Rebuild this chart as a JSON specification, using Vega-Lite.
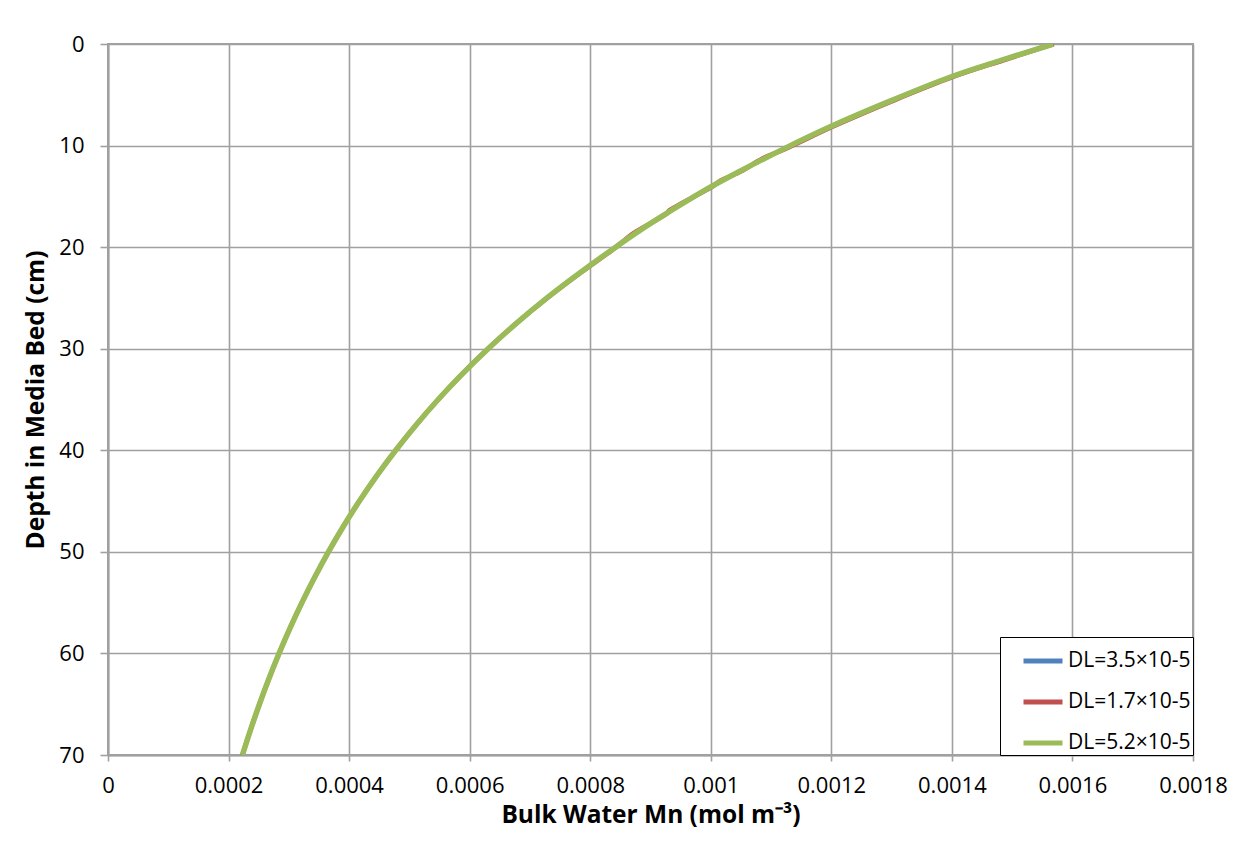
{
  "$schema": "https://vega.github.io/schema/vega-lite/v6.json",
  "autosize": {"type": "none"},
  "width": 1085,
  "height": 711,
  "padding": {"left": 108, "top": 44, "right": 51, "bottom": 88},
  "background": "white",
  "datasets": {
    "curves": [
      {"series": "DL=3.5×10-5", "depth": 0, "mn": 0.001568},
      {"series": "DL=3.5×10-5", "depth": 1.6, "mn": 0.0014817},
      {"series": "DL=3.5×10-5", "depth": 3.2, "mn": 0.0014},
      {"series": "DL=3.5×10-5", "depth": 5.6, "mn": 0.0012982},
      {"series": "DL=3.5×10-5", "depth": 8.15, "mn": 0.001198},
      {"series": "DL=3.5×10-5", "depth": 10.3, "mn": 0.0011219},
      {"series": "DL=3.5×10-5", "depth": 12.5, "mn": 0.0010491},
      {"series": "DL=3.5×10-5", "depth": 14, "mn": 0.001002},
      {"series": "DL=3.5×10-5", "depth": 16.7, "mn": 0.000926},
      {"series": "DL=3.5×10-5", "depth": 18.3, "mn": 0.0008836},
      {"series": "DL=3.5×10-5", "depth": 20, "mn": 0.000842},
      {"series": "DL=3.5×10-5", "depth": 22.5, "mn": 0.0007836},
      {"series": "DL=3.5×10-5", "depth": 25, "mn": 0.0007283},
      {"series": "DL=3.5×10-5", "depth": 27.5, "mn": 0.0006774},
      {"series": "DL=3.5×10-5", "depth": 30, "mn": 0.0006306},
      {"series": "DL=3.5×10-5", "depth": 32.5, "mn": 0.0005875},
      {"series": "DL=3.5×10-5", "depth": 35, "mn": 0.0005478},
      {"series": "DL=3.5×10-5", "depth": 37.5, "mn": 0.0005111},
      {"series": "DL=3.5×10-5", "depth": 40, "mn": 0.0004773},
      {"series": "DL=3.5×10-5", "depth": 42.5, "mn": 0.000446},
      {"series": "DL=3.5×10-5", "depth": 45, "mn": 0.0004171},
      {"series": "DL=3.5×10-5", "depth": 47.5, "mn": 0.0003904},
      {"series": "DL=3.5×10-5", "depth": 50, "mn": 0.0003657},
      {"series": "DL=3.5×10-5", "depth": 52.5, "mn": 0.0003429},
      {"series": "DL=3.5×10-5", "depth": 55, "mn": 0.0003217},
      {"series": "DL=3.5×10-5", "depth": 57.5, "mn": 0.000302},
      {"series": "DL=3.5×10-5", "depth": 60, "mn": 0.0002838},
      {"series": "DL=3.5×10-5", "depth": 62.5, "mn": 0.0002669},
      {"series": "DL=3.5×10-5", "depth": 65, "mn": 0.0002512},
      {"series": "DL=3.5×10-5", "depth": 67.5, "mn": 0.0002366},
      {"series": "DL=3.5×10-5", "depth": 70, "mn": 0.000223},

      {"series": "DL=1.7×10-5", "depth": 0, "mn": 0.001569},
      {"series": "DL=1.7×10-5", "depth": 1.6, "mn": 0.0014857},
      {"series": "DL=1.7×10-5", "depth": 3.2, "mn": 0.001404},
      {"series": "DL=1.7×10-5", "depth": 5.6, "mn": 0.0013022},
      {"series": "DL=1.7×10-5", "depth": 8.15, "mn": 0.001202},
      {"series": "DL=1.7×10-5", "depth": 10.3, "mn": 0.0011249},
      {"series": "DL=1.7×10-5", "depth": 11.3, "mn": 0.001085},
      {"series": "DL=1.7×10-5", "depth": 12.5, "mn": 0.0010515},
      {"series": "DL=1.7×10-5", "depth": 13.5, "mn": 0.0010145},
      {"series": "DL=1.7×10-5", "depth": 14, "mn": 0.001004},
      {"series": "DL=1.7×10-5", "depth": 16.4, "mn": 0.000931},
      {"series": "DL=1.7×10-5", "depth": 16.7, "mn": 0.000927},
      {"series": "DL=1.7×10-5", "depth": 18.7, "mn": 0.00087},
      {"series": "DL=1.7×10-5", "depth": 20, "mn": 0.000843},
      {"series": "DL=1.7×10-5", "depth": 22.5, "mn": 0.0007846},
      {"series": "DL=1.7×10-5", "depth": 25, "mn": 0.0007288},
      {"series": "DL=1.7×10-5", "depth": 27.5, "mn": 0.0006774},
      {"series": "DL=1.7×10-5", "depth": 30, "mn": 0.0006306},
      {"series": "DL=1.7×10-5", "depth": 32.5, "mn": 0.0005875},
      {"series": "DL=1.7×10-5", "depth": 35, "mn": 0.0005478},
      {"series": "DL=1.7×10-5", "depth": 37.5, "mn": 0.0005111},
      {"series": "DL=1.7×10-5", "depth": 40, "mn": 0.0004773},
      {"series": "DL=1.7×10-5", "depth": 42.5, "mn": 0.000446},
      {"series": "DL=1.7×10-5", "depth": 45, "mn": 0.0004171},
      {"series": "DL=1.7×10-5", "depth": 47.5, "mn": 0.0003904},
      {"series": "DL=1.7×10-5", "depth": 50, "mn": 0.0003657},
      {"series": "DL=1.7×10-5", "depth": 52.5, "mn": 0.0003429},
      {"series": "DL=1.7×10-5", "depth": 55, "mn": 0.0003217},
      {"series": "DL=1.7×10-5", "depth": 57.5, "mn": 0.000302},
      {"series": "DL=1.7×10-5", "depth": 60, "mn": 0.0002838},
      {"series": "DL=1.7×10-5", "depth": 62.5, "mn": 0.0002669},
      {"series": "DL=1.7×10-5", "depth": 65, "mn": 0.0002512},
      {"series": "DL=1.7×10-5", "depth": 67.5, "mn": 0.0002366},
      {"series": "DL=1.7×10-5", "depth": 70, "mn": 0.000223},

      {"series": "DL=5.2×10-5", "depth": 0, "mn": 0.001568},
      {"series": "DL=5.2×10-5", "depth": 1.6, "mn": 0.0014817},
      {"series": "DL=5.2×10-5", "depth": 3.2, "mn": 0.0014},
      {"series": "DL=5.2×10-5", "depth": 5.6, "mn": 0.0012982},
      {"series": "DL=5.2×10-5", "depth": 8.15, "mn": 0.001198},
      {"series": "DL=5.2×10-5", "depth": 10.3, "mn": 0.0011219},
      {"series": "DL=5.2×10-5", "depth": 12.5, "mn": 0.0010491},
      {"series": "DL=5.2×10-5", "depth": 14, "mn": 0.001002},
      {"series": "DL=5.2×10-5", "depth": 16.7, "mn": 0.000926},
      {"series": "DL=5.2×10-5", "depth": 18.3, "mn": 0.0008836},
      {"series": "DL=5.2×10-5", "depth": 20, "mn": 0.000842},
      {"series": "DL=5.2×10-5", "depth": 22.5, "mn": 0.0007836},
      {"series": "DL=5.2×10-5", "depth": 25, "mn": 0.0007283},
      {"series": "DL=5.2×10-5", "depth": 27.5, "mn": 0.0006774},
      {"series": "DL=5.2×10-5", "depth": 30, "mn": 0.0006306},
      {"series": "DL=5.2×10-5", "depth": 32.5, "mn": 0.0005875},
      {"series": "DL=5.2×10-5", "depth": 35, "mn": 0.0005478},
      {"series": "DL=5.2×10-5", "depth": 37.5, "mn": 0.0005111},
      {"series": "DL=5.2×10-5", "depth": 40, "mn": 0.0004773},
      {"series": "DL=5.2×10-5", "depth": 42.5, "mn": 0.000446},
      {"series": "DL=5.2×10-5", "depth": 45, "mn": 0.0004171},
      {"series": "DL=5.2×10-5", "depth": 47.5, "mn": 0.0003904},
      {"series": "DL=5.2×10-5", "depth": 50, "mn": 0.0003657},
      {"series": "DL=5.2×10-5", "depth": 52.5, "mn": 0.0003429},
      {"series": "DL=5.2×10-5", "depth": 55, "mn": 0.0003217},
      {"series": "DL=5.2×10-5", "depth": 57.5, "mn": 0.000302},
      {"series": "DL=5.2×10-5", "depth": 60, "mn": 0.0002838},
      {"series": "DL=5.2×10-5", "depth": 62.5, "mn": 0.0002669},
      {"series": "DL=5.2×10-5", "depth": 65, "mn": 0.0002512},
      {"series": "DL=5.2×10-5", "depth": 67.5, "mn": 0.0002366},
      {"series": "DL=5.2×10-5", "depth": 70, "mn": 0.000223}
    ]
  },
  "data": {"name": "curves"},
  "encoding": {
    "x": {
      "field": "mn", "type": "quantitative",
      "scale": {"domain": [0, 0.0018], "nice": false, "zero": false},
      "axis": {
        "title": "Bulk Water Mn (mol m⁻³)",
        "values": [0, 0.0002, 0.0004, 0.0006, 0.0008, 0.001, 0.0012, 0.0014, 0.0016, 0.0018],
        "format": ".4~f",
        "labelFlush": false,
        "tickSize": 6,
        "labelPadding": 14,
        "titlePadding": 7
      }
    },
    "y": {
      "field": "depth", "type": "quantitative",
      "scale": {"domain": [0, 70], "reverse": true, "nice": false, "zero": false},
      "axis": {
        "title": "Depth in Media Bed (cm)",
        "values": [0, 10, 20, 30, 40, 50, 60, 70],
        "labelFlush": false,
        "tickSize": 8,
        "labelPadding": 16,
        "titlePadding": 10
      }
    },
    "order": {"field": "depth", "type": "quantitative"},
    "color": {
      "field": "series", "type": "nominal",
      "scale": {
        "domain": ["DL=3.5×10-5", "DL=1.7×10-5", "DL=5.2×10-5"],
        "range": ["#4F81BD", "#C0504D", "#9BBB59"]
      },
      "legend": {
        "title": null,
        "orient": "bottom-right",
        "offset": 0,
        "padding": 2,
        "symbolType": "stroke",
        "symbolSize": 1521,
        "symbolStrokeWidth": 5,
        "symbolOffset": 19,
        "labelOffset": 3,
        "rowPadding": 9,
        "labelFont": "Open Sans",
        "labelFontSize": 21,
        "labelColor": "black",
        "labelLimit": 300,
        "strokeColor": "black",
        "fillColor": "white"
      }
    }
  },
  "layer": [
    {"transform": [{"filter": "datum.series == 'DL=3.5×10-5'"}], "mark": {"type": "line", "strokeWidth": 4, "interpolate": "catmull-rom", "clip": true}},
    {"transform": [{"filter": "datum.series == 'DL=1.7×10-5'"}], "mark": {"type": "line", "strokeWidth": 4.5, "interpolate": "catmull-rom", "clip": true}},
    {"transform": [{"filter": "datum.series == 'DL=5.2×10-5'"}], "mark": {"type": "line", "strokeWidth": 5.5, "interpolate": "catmull-rom", "clip": true}}
  ],
  "config": {
    "view": {"stroke": "#a0a0a0", "strokeWidth": 2},
    "axis": {
      "grid": true,
      "gridColor": "#a0a0a0",
      "gridWidth": 1.6,
      "gridOpacity": 1,
      "domainColor": "#a0a0a0",
      "domainWidth": 2,
      "tickColor": "#a0a0a0",
      "tickWidth": 1.6,
      "labelFont": "Open Sans",
      "labelFontSize": 22,
      "labelColor": "black",
      "titleFont": "Open Sans",
      "titleFontSize": 24.5,
      "titleFontWeight": "bold",
      "titleColor": "black"
    }
  }
}
